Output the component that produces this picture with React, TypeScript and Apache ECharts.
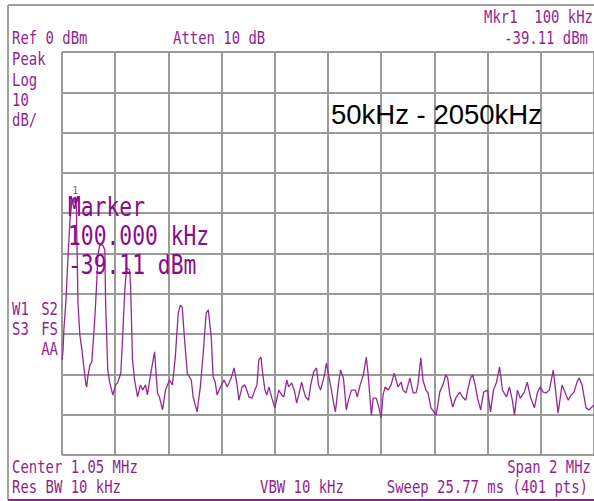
import React, { useEffect, useRef } from "react";
import * as echarts from "echarts";

// Spectrum trace: [frequency kHz, level dBm]
const trace: [number, number][] = [
  [50, -76.4], [54, -73.9], [57, -69.0], [65, -61.5], [72, -51.6], [80, -41.7], [87, -37.0], [95, -36.2],
  [100, -36.2], [104, -38.5], [110, -62.3], [117, -70.2], [125, -73.9], [132, -78.2], [140, -82.6], [143, -83.1],
  [147, -80.6], [155, -77.7], [162, -76.9], [173, -66.5], [181, -56.6], [185, -50.4], [192, -47.9], [203, -47.9],
  [211, -49.1], [214, -62.3], [222, -78.9], [229, -81.9], [241, -85.1], [252, -82.6], [259, -82.1], [271, -79.7],
  [278, -70.7], [286, -59.1], [293, -53.6], [304, -54.1], [308, -58.3], [315, -76.4], [323, -81.4], [334, -85.6],
  [345, -82.6], [353, -83.9], [364, -82.6], [371, -85.1], [386, -78.9], [398, -74.4], [401, -77.2], [409, -84.6],
  [416, -85.6], [428, -88.8], [439, -83.9], [454, -81.4], [465, -82.6], [476, -75.7], [487, -64.8], [495, -62.8],
  [502, -63.3], [510, -70.7], [521, -79.7], [536, -81.4], [543, -85.6], [558, -89.3], [570, -83.1], [581, -74.7],
  [592, -64.8], [600, -64.0], [611, -70.7], [618, -80.6], [626, -81.9], [633, -85.1], [644, -83.4], [659, -81.4],
  [671, -83.1], [686, -80.9], [697, -78.4], [708, -82.6], [715, -86.4], [727, -83.1], [738, -82.6], [753, -85.6],
  [764, -85.9], [775, -83.9], [783, -82.6], [790, -76.4], [798, -75.7], [805, -80.1], [813, -83.9], [820, -85.1],
  [828, -83.1], [839, -85.9], [850, -88.3], [865, -83.9], [876, -85.1], [884, -85.6], [895, -81.4], [902, -83.1],
  [914, -82.1], [925, -84.4], [932, -87.1], [940, -85.1], [951, -81.9], [958, -83.9], [966, -85.6], [977, -86.4],
  [985, -82.6], [996, -79.4], [1007, -78.4], [1014, -82.6], [1022, -83.9], [1037, -80.1], [1044, -77.2], [1052, -80.1],
  [1063, -83.9], [1071, -87.1], [1078, -89.3], [1089, -82.6], [1097, -78.9], [1108, -80.9], [1119, -88.8], [1127, -86.4],
  [1138, -83.9], [1153, -83.9], [1160, -85.6], [1171, -82.6], [1183, -80.1], [1194, -75.7], [1201, -80.1], [1213, -90.1],
  [1220, -85.9], [1231, -85.9], [1239, -87.6], [1250, -90.8], [1257, -85.1], [1265, -83.1], [1276, -83.9], [1287, -82.6],
  [1299, -79.7], [1306, -81.4], [1313, -83.1], [1325, -81.9], [1332, -83.9], [1343, -84.6], [1351, -82.6], [1358, -80.9],
  [1370, -84.6], [1381, -84.6], [1388, -82.6], [1399, -75.9], [1407, -81.4], [1418, -83.9], [1426, -84.6], [1437, -88.3],
  [1448, -89.3], [1456, -90.1], [1463, -87.6], [1470, -84.4], [1482, -82.6], [1493, -80.1], [1500, -80.9], [1508, -85.1],
  [1519, -88.1], [1530, -85.9], [1545, -84.4], [1556, -85.6], [1568, -86.4], [1575, -83.9], [1586, -80.9], [1594, -80.1],
  [1605, -83.1], [1612, -85.9], [1624, -88.8], [1635, -84.4], [1650, -83.9], [1661, -89.3], [1672, -83.9], [1683, -82.1],
  [1695, -78.2], [1706, -83.9], [1721, -85.6], [1732, -83.1], [1743, -86.4], [1751, -90.1], [1762, -83.9], [1773, -85.9],
  [1788, -84.4], [1799, -81.9], [1811, -85.6], [1826, -88.3], [1837, -84.6], [1848, -83.1], [1859, -84.4], [1870, -84.6],
  [1882, -83.9], [1897, -78.9], [1904, -83.1], [1915, -89.6], [1930, -82.6], [1941, -84.4], [1953, -86.4], [1964, -85.1],
  [1975, -84.4], [1986, -81.9], [1994, -80.9], [2005, -82.6], [2020, -88.3], [2031, -88.8], [2050, -87.6],
];

const startFreq = 50;
const stopFreq = 2050;
const refLevel = 0;
const bottomLevel = -100;
const dbPerDiv = 10;
const markerFreq = 100;
const markerLevel = -39.11;

const headerLeft = ["Ref 0 dBm", "Atten 10 dB"];
const headerRight = ["Mkr1  100 kHz", "-39.11 dBm"];
const sideTop = ["Peak", "Log", "10", "dB/"];
const sideBottomLeft = ["W1", "S3"];
const sideBottomRight = ["S2", "FS", "AA"];
const footerLeft = ["Center 1.05 MHz", "Res BW 10 kHz"];
const footerMid = "VBW 10 kHz";
const footerRight = ["Span 2 MHz", "Sweep 25.77 ms (401 pts)"];
const markerBlock = ["Marker", "100.000 kHz", "-39.11 dBm"];
const rangeTitle = "50kHz - 2050kHz";

const PURPLE = "#8f1f8f";
const MONO = "'DejaVu Sans Mono', monospace";

function txt(text: string, x: number, y: number, opts: any = {}) {
  const size = opts.size || 17;
  const align = opts.align || "left";
  return {
    type: "text",
    x,
    y,
    scaleX: opts.scaleX ?? 0.82,
    z: 10,
    style: {
      text,
      fill: opts.fill || PURPLE,
      font: `${size}px ${opts.family || MONO}`,
      align,
      textAlign: align,
      verticalAlign: "middle",
      textVerticalAlign: "middle",
    },
  };
}

export default function App() {
  const ref = useRef<HTMLDivElement>(null);
  useEffect(() => {
    if (!ref.current) return;
    const chart = echarts.init(ref.current, null, { renderer: "svg" });
    // marker point at the trace sample nearest to the marker frequency
    let best = trace[0];
    for (const p of trace) if (Math.abs(p[0] - markerFreq) < Math.abs(best[0] - markerFreq)) best = p;

    const gridLine = { show: true, lineStyle: { color: "#9a9a9a", width: 2 } };
    const elements: any[] = [
      { type: "line", shape: { x1: 8, y1: 5, x2: 594, y2: 5 }, style: { stroke: "#a0a0a0", lineWidth: 2 } },
      { type: "line", shape: { x1: 8, y1: 5, x2: 8, y2: 500 }, style: { stroke: "#a0a0a0", lineWidth: 2 } },
      { type: "line", shape: { x1: 8, y1: 500, x2: 594, y2: 500 }, style: { stroke: PURPLE, lineWidth: 2 } },
      txt(headerLeft[0], 12, 39),
      txt(headerLeft[1], 173, 39),
      txt(headerRight[0], 593, 18, { align: "right" }),
      txt(headerRight[1], 588, 39, { align: "right" }),
      ...sideTop.map((s, i) => txt(s, 12, 60 + i * 20.3)),
      ...sideBottomLeft.map((s, i) => txt(s, 12, 310 + i * 20)),
      ...sideBottomRight.map((s, i) => txt(s, 58, 310 + i * 20, { align: "right" })),
      txt(footerLeft[0], 12, 468),
      txt(footerLeft[1], 12, 488),
      txt(footerMid, 260, 488),
      txt(footerRight[0], 591, 468, { align: "right" }),
      txt(footerRight[1], 588, 488, { align: "right" }),
      ...markerBlock.map((s, i) => txt(s, 68, 207 + i * 29, { size: 26, fill: "#8a0a8a" })),
      txt(rangeTitle, 331, 114, { size: 27.5, fill: "#000", family: "'Liberation Sans', Arial, sans-serif", scaleX: 1 }),
    ];

    chart.setOption({
      animation: false,
      backgroundColor: "#fff",
      grid: { left: 62, top: 52, width: 535, height: 403, containLabel: false },
      xAxis: [
        {
          type: "value",
          min: startFreq,
          max: stopFreq,
          show: false,
          splitLine: { show: false },
        },
        {
          type: "value",
          min: 0,
          max: 10,
          interval: 1,
          position: "bottom",
          axisLabel: { show: false },
          axisTick: { show: false },
          axisLine: { show: false },
          splitLine: gridLine,
        },
      ],
      yAxis: {
        type: "value",
        min: bottomLevel,
        max: refLevel,
        interval: dbPerDiv,
        axisLabel: { show: false },
        axisTick: { show: false },
        axisLine: { show: false },
        splitLine: gridLine,
      },
      series: [
        {
          type: "line",
          xAxisIndex: 0,
          data: trace,
          symbol: "none",
          lineStyle: { color: "#962896", width: 1.3 },
          z: 5,
        },
        {
          type: "scatter",
          xAxisIndex: 0,
          data: [[best[0], best[1] - 0.6]],
          symbol: "diamond",
          symbolSize: [7, 8],
          itemStyle: { color: "#8a0a8a" },
          label: {
            show: true,
            formatter: "1",
            position: "top",
            distance: 1,
            color: "#8a0a8a",
            fontSize: 10,
            fontFamily: MONO,
          },
          z: 6,
        },
      ],
      graphic: { elements },
    });
    return () => chart.dispose();
  }, []);
  return (
    <div
      ref={ref}
      style={{ position: "absolute", left: 0, top: 0, width: 594, height: 501, background: "#fff" }}
    />
  );
}
